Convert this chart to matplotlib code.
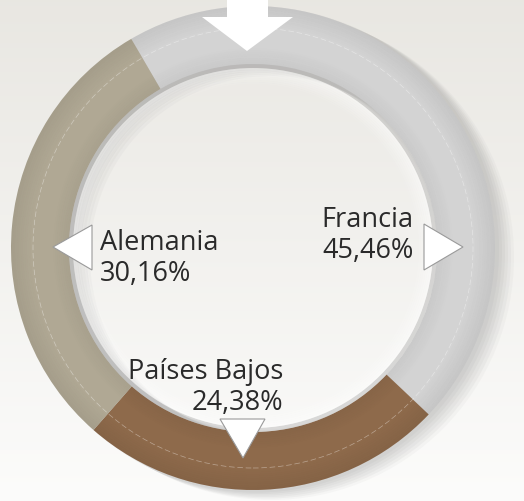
import numpy as np
import matplotlib
matplotlib.use("Agg")
import matplotlib.pyplot as plt
from matplotlib.patches import Wedge, Circle, Polygon

# ---- data ----
categories = ["Francia", "Países Bajos", "Alemania"]
values = [45.46, 24.38, 30.16]
colors = ["#d3d3d3", "#8e6a4b", "#b0a894"]

plt.rcParams['font.family'] = ['Open Sans', 'DejaVu Sans']

W, H = 524, 501
fig = plt.figure(figsize=(W / 100, H / 100), dpi=100)
ax = fig.add_axes([0, 0, 1, 1])
ax.set_xlim(0, W)
ax.set_ylim(0, H)
ax.axis('off')

# background gradient
grad = np.linspace(0, 1, 256)[:, None]
top = np.array([0.913, 0.906, 0.886])
bot = np.array([0.988, 0.988, 0.984])
img = top[None, None, :] * (1 - grad[..., None]) + bot[None, None, :] * grad[..., None]
ax.imshow(img, extent=[0, W, 0, H], origin='upper', aspect='auto', zorder=0)

cx, cy = 253, H - 248
R, ring_w = 242, 58

# soft shadow
for i, a in enumerate([0.05, 0.05, 0.05, 0.05, 0.05, 0.04]):
    off = 3 + i * 3
    ax.add_patch(Wedge((cx + off, cy - off * 0.5), R + 1, 0, 360, width=ring_w + 4,
                       facecolor='#6a6a6a', alpha=a, edgecolor='none', zorder=1))

wedges, _ = ax.pie(values, colors=colors, startangle=120.2, counterclock=False,
                   center=(cx, cy), radius=R, frame=True,
                   wedgeprops=dict(width=ring_w, edgecolor='none'))
for w in wedges:
    w.set_zorder(2)
ax.set_xlim(0, W)
ax.set_ylim(0, H)
ax.set_aspect('auto')
ax.axis('off')

# ring shading: darker outer band, darker inner edge
for k in range(10):
    r0 = R - k * 2
    ax.add_patch(Wedge((cx, cy), r0, 0, 360, width=2, facecolor='black',
                       alpha=0.012 * (10 - k) / 2, edgecolor='none', zorder=3))
for k in range(8):
    ax.add_patch(Wedge((cx, cy), R - ring_w + 2 + k * 2, 0, 360, width=2, facecolor='black',
                       alpha=0.01 * (8 - k) / 2, edgecolor='none', zorder=3))

# thin dashed line in ring
ax.add_patch(Circle((cx, cy), 220, fill=False, edgecolor='white', lw=0.5,
                    linestyle=(0, (8, 4)), alpha=0.4, zorder=4))

# inner hole shading (grey at edge -> white highlight)
rin = R - ring_w
ax.add_patch(Wedge((cx, cy), rin, 0, 360, width=4, facecolor='#a9a9a9', alpha=0.4,
                   edgecolor='none', zorder=3))
for k in range(8):
    ax.add_patch(Wedge((cx, cy), rin - 4 - k * 2, 0, 360, width=2, facecolor='white',
                       alpha=0.45 * (8 - k) / 8, edgecolor='none', zorder=3))

# top arrow
arrow = Polygon([(227, H), (268, H), (268, H - 17), (293, H - 17), (247, H - 51),
                 (202, H - 17), (227, H - 17)], closed=True, facecolor='white',
                edgecolor='none', zorder=5)
ax.add_patch(arrow)

# label triangles
tri_kw = dict(closed=True, facecolor='white', edgecolor='#9a9a9a', lw=0.8, zorder=6)
ax.add_patch(Polygon([(424, H - 224), (424, H - 270), (463, H - 247)], **tri_kw))
ax.add_patch(Polygon([(92, H - 225), (92, H - 270), (53, H - 247)], **tri_kw))
ax.add_patch(Polygon([(220, H - 419), (265, H - 419), (243, H - 458)], **tri_kw))

def pct(v):
    return f"{v:.2f}".replace('.', ',') + "%"

txt_kw = dict(fontsize=19.5, color='#2a2a2a', zorder=7, linespacing=1.12)
ax.text(414, H - 258, f"{categories[0]}\n{pct(values[0])}", ha='right', va='baseline', **txt_kw)
ax.text(283, H - 410, f"{categories[1]}\n{pct(values[1])}", ha='right', va='baseline',
        multialignment='right', **txt_kw)
ax.text(100, H - 281, f"{categories[2]}\n{pct(values[2])}", ha='left', va='baseline', **txt_kw)

fig.savefig("out.png", dpi=100)
